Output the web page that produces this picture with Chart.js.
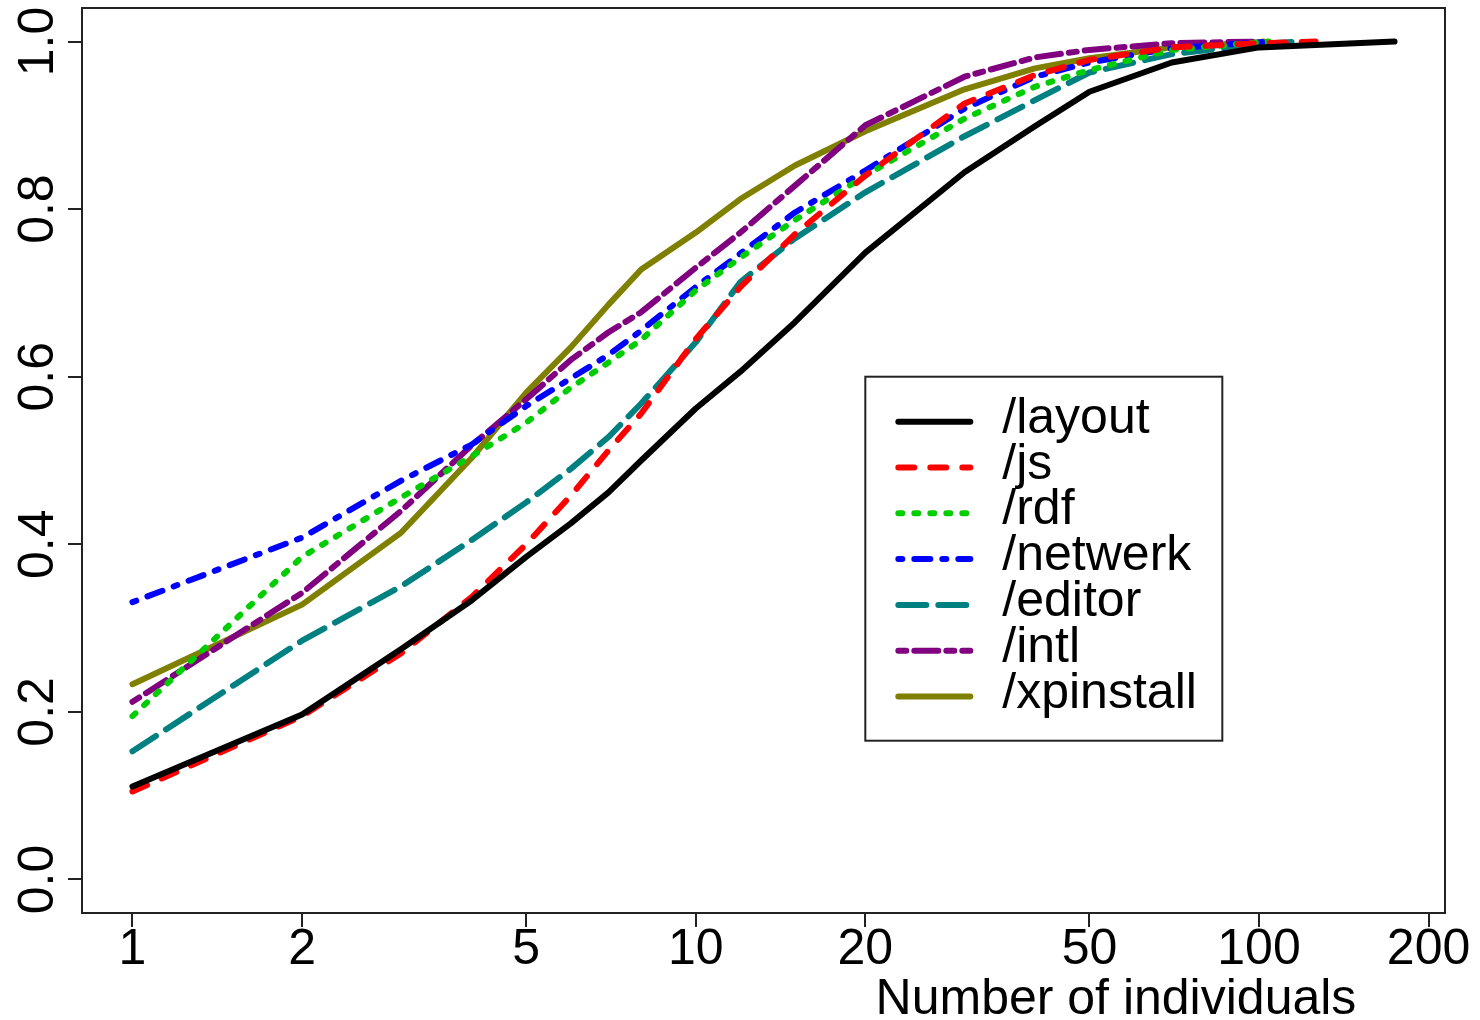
<!DOCTYPE html>
<html>
<head>
<meta charset="utf-8">
<title>Number of individuals</title>
<script src="https://cdn.jsdelivr.net/npm/chart.js@4.4.1/dist/chart.umd.min.js"></script>
<style>
  html, body { margin: 0; padding: 0; background: #fff; }
  #cdfChart { display: block; }
</style>
</head>
<body>
<canvas id="cdfChart" width="1480" height="1020"></canvas>
<script>
const nIndividuals = [1, 2, 3, 4, 5, 6, 7, 8, 10, 12, 15, 20, 30, 40, 50, 70, 100];

// cumulative share of files, one array per directory
const layoutCdf    = [0.111, 0.197, 0.275, 0.333, 0.385, 0.425, 0.462, 0.500, 0.562, 0.606, 0.665, 0.748, 0.844, 0.899, 0.940, 0.975, 0.993];
const jsCdf        = [0.105, 0.195, 0.270, 0.337, 0.400, 0.458, 0.512, 0.556, 0.645, 0.707, 0.770, 0.840, 0.926, 0.960, 0.978, 0.993, 0.998];
const rdfCdf       = [0.195, 0.385, 0.456, 0.505, 0.545, 0.587, 0.617, 0.644, 0.703, 0.742, 0.787, 0.840, 0.908, 0.946, 0.966, 0.990, 0.999];
const netwerkCdf   = [0.331, 0.408, 0.476, 0.519, 0.565, 0.598, 0.626, 0.655, 0.707, 0.747, 0.796, 0.846, 0.920, 0.958, 0.975, 0.992, 0.999];
const editorCdf    = [0.153, 0.285, 0.350, 0.405, 0.450, 0.490, 0.528, 0.568, 0.641, 0.713, 0.765, 0.820, 0.887, 0.930, 0.963, 0.985, 0.997];
const intlCdf      = [0.212, 0.342, 0.440, 0.518, 0.573, 0.620, 0.653, 0.677, 0.730, 0.772, 0.828, 0.900, 0.958, 0.981, 0.990, 0.998, 1.000];
const xpinstallCdf = [0.233, 0.328, 0.414, 0.503, 0.581, 0.635, 0.686, 0.728, 0.772, 0.812, 0.852, 0.893, 0.943, 0.968, 0.980, 0.993, 0.999];

// largest number of individuals in each directory (curve reaches 1 there)
const seriesMaxN   = [174, 126, 104, 103, 117, 100, 102];
const seriesNames  = ['/layout', '/js', '/rdf', '/netwerk', '/editor', '/intl', '/xpinstall'];

const xTickValues = [1, 2, 5, 10, 20, 50, 100, 200];
const yTickValues = [0, 0.2, 0.4, 0.6, 0.8, 1.0];
const xTitle = 'Number of individuals';

// R style look
const FONT = "'Liberation Sans', Arial, Helvetica, sans-serif";
const colors = ['#000000', '#ff0000', '#00cd00', '#0000ff', '#008080', '#800080', '#808000'];
const dashes = [[], [16, 16], [4, 12], [4, 12, 16, 12], [28, 12], [8, 8, 24, 8], []];
const LINE_W = 6;

function buildPoints(values, lastN) {
   var pts = [];
   for (var i = 0; i < nIndividuals.length; i++) {
      if (nIndividuals[i] > lastN) break;
      pts.push({ x: nIndividuals[i], y: values[i] });
   }
   if (pts[pts.length - 1].x < lastN) pts.push({ x: lastN, y: 1 });
   return pts;
}

const allCdf = [layoutCdf, jsCdf, rdfCdf, netwerkCdf, editorCdf, intlCdf, xpinstallCdf];
var datasets = [];
for (var i = 0; i < allCdf.length; i++) {
   datasets.push({
      label: seriesNames[i],
      data: buildPoints(allCdf[i], seriesMaxN[i]),
      borderColor: colors[i],
      borderWidth: LINE_W,
      borderDash: dashes[i],
      borderCapStyle: 'round',
      borderJoinStyle: 'round',
      pointRadius: 0,
      fill: false,
      tension: 0
   });
}

// axis range like R: 4% extension of the data range
const logMax = Math.log10(Math.max.apply(null, seriesMaxN));
const xMin = Math.pow(10, -0.04 * logMax);
const xMax = Math.pow(10, 1.04 * logMax);

const rFrame = {
   id: 'rFrame',
   afterDraw: function(chart) {
      const c = chart.ctx;
      const a = chart.chartArea;
      const xs = chart.scales.x;
      const ys = chart.scales.y;
      c.save();

      // plot box
      c.strokeStyle = '#222';
      c.lineWidth = 2;
      c.strokeRect(a.left, a.top, a.right - a.left, a.bottom - a.top);

      // y tick labels, rotated
      c.fillStyle = '#000';
      c.font = '50px ' + FONT;
      c.textAlign = 'center';
      c.textBaseline = 'alphabetic';
      yTickValues.forEach(function(v) {
         c.save();
         c.translate(a.left - 29, ys.getPixelForValue(v));
         c.rotate(-Math.PI / 2);
         c.fillText(v.toFixed(1), 0, 0);
         c.restore();
      });

      // x title
      c.textAlign = 'center';
      c.fillText(xTitle, a.left + 0.7586 * (a.right - a.left), a.bottom + 101);

      // legend, top-left corner at (20, 0.6)
      const lx = xs.getPixelForValue(20);
      const ly = ys.getPixelForValue(0.6);
      const lw = 357, lh = 364, rowH = 45.8;
      c.fillStyle = '#fff';
      c.fillRect(lx, ly, lw, lh);
      c.strokeStyle = '#222';
      c.lineWidth = 2;
      c.strokeRect(lx, ly, lw, lh);
      chart.data.datasets.forEach(function(ds, k) {
         const cy = ly + 45 + k * rowH;
         c.beginPath();
         c.strokeStyle = ds.borderColor;
         c.lineWidth = ds.borderWidth;
         c.lineCap = 'round';
         c.setLineDash(ds.borderDash);
         c.moveTo(lx + 33, cy);
         c.lineTo(lx + 105, cy);
         c.stroke();
         c.setLineDash([]);
         c.fillStyle = '#000';
         c.textAlign = 'left';
         c.fillText(ds.label, lx + 137, cy + 11);
      });
      c.restore();
   }
};

const ctx = document.getElementById('cdfChart');
new Chart(ctx, {
   type: 'line',
   data: { datasets: datasets },
   options: {
      responsive: false,
      animation: false,
      layout: { padding: { left: 0, top: 8, right: 35, bottom: 0 } },
      plugins: {
         legend: { display: false },
         tooltip: { enabled: false }
      },
      scales: {
         x: {
            type: 'logarithmic',
            min: xMin,
            max: xMax,
            afterBuildTicks: function(scale) {
               scale.ticks = xTickValues.map(function(v) { return { value: v }; });
            },
            afterFit: function(scale) { scale.height = 107; },
            border: { display: false },
            grid: { display: true, drawOnChartArea: false, drawTicks: true, tickLength: 14, color: '#222', lineWidth: 2 },
            ticks: {
               autoSkip: false,
               maxRotation: 0,
               padding: -2,
               color: '#000',
               font: { family: FONT, size: 50, lineHeight: 1 },
               callback: function(v) { return String(v); }
            }
         },
         y: {
            type: 'linear',
            min: -0.04,
            max: 1.04,
            afterBuildTicks: function(scale) {
               scale.ticks = yTickValues.map(function(v) { return { value: v }; });
            },
            afterFit: function(scale) { scale.width = 82; },
            border: { display: false },
            grid: { display: true, drawOnChartArea: false, drawTicks: true, tickLength: 14, color: '#222', lineWidth: 2 },
            ticks: { display: false }
         }
      }
   },
   plugins: [rFrame]
});
</script>
</body>
</html>
